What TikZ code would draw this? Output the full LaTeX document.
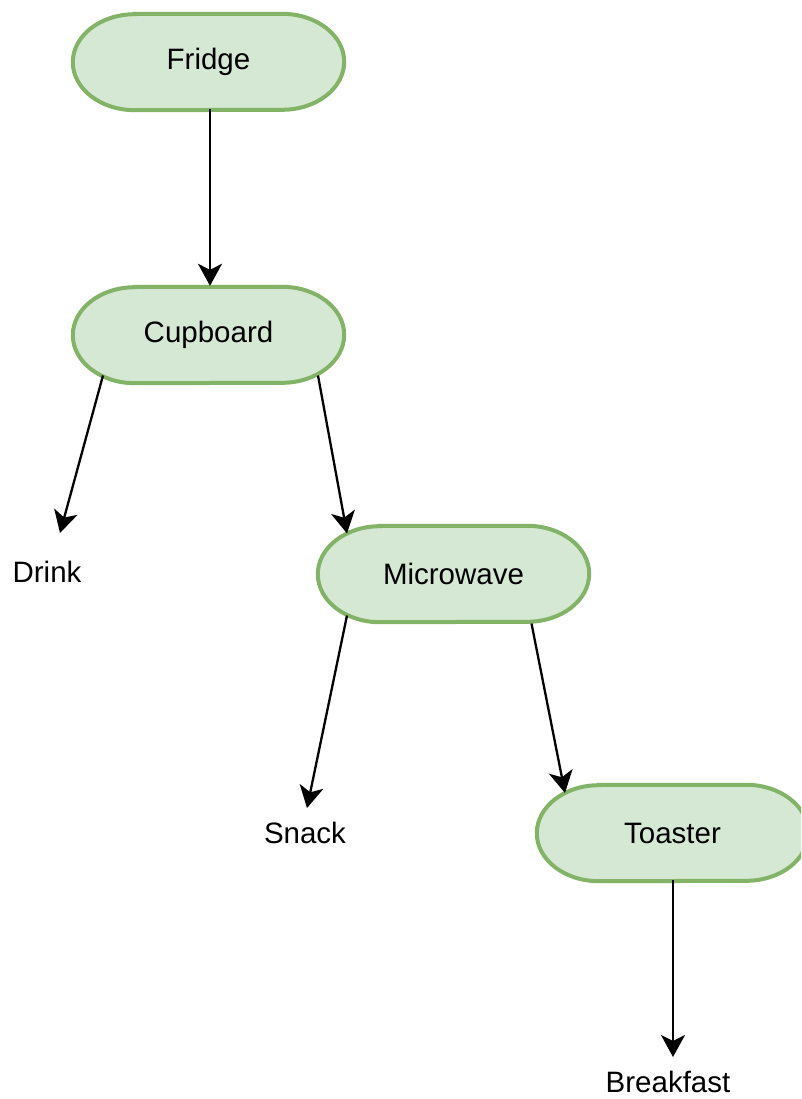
\documentclass[tikz,border=0pt]{standalone}
\usepackage{fontspec}
\setmainfont{Liberation Sans}
\usetikzlibrary{arrows.meta,backgrounds}
\begin{document}
\begin{tikzpicture}[x=1pt,y=-1pt,
  state/.style={minimum width=271pt,minimum height=96pt,inner sep=0pt,font=\fontsize{29.5}{33}\selectfont},
  outline/.style={draw=green1,fill=green2,line width=4pt},
  leaf/.style={inner sep=0pt,font=\fontsize{29.5}{33}\selectfont},
  conn/.style={line width=2.3pt,-{Stealth[length=22pt,width=24pt,inset=6pt]}}]
\definecolor{green1}{HTML}{82B366}
\definecolor{green2}{HTML}{D5E8D4}
\useasboundingbox (0,0) rectangle (801,1099);
\node[state] (fridge) at (208.5,62) {Fridge};
\node[state] (cupboard) at (208.5,335) {Cupboard};
\node[state] (microwave) at (453.5,574) {Microwave};
\node[state] (toaster) at (672.5,833) {Toaster};
\node[leaf] (drink) at (47,572) {Drink};
\node[leaf] (snack) at (305,833) {Snack};
\node[leaf] (breakfast) at (668,1082) {Breakfast};
\begin{scope}[on background layer]
\clip (0,0) rectangle (801,1099);
\foreach \n in {fridge,cupboard,microwave,toaster}{
  \draw[outline] ([xshift=62pt]\n.north west) -- ([xshift=-62pt]\n.north east)
    arc[start angle=90,end angle=-90,x radius=62pt,y radius=48pt]
    -- ([xshift=62pt]\n.south west)
    arc[start angle=270,end angle=90,x radius=62pt,y radius=48pt] -- cycle;
}
\end{scope}
\draw[conn] ([xshift=1.5pt,yshift=1pt]fridge.south) -- ([xshift=1.5pt,yshift=1pt]cupboard.north);
\draw[conn] ([shift={(-105.5,40.5)}]cupboard.center) -- ([shift={(13,-39)}]drink.center);
\draw[conn] ([shift={(109.5,40.5)}]cupboard.center) -- ([shift={(-106.5,-40.5)}]microwave.center);
\draw[conn] ([shift={(-106.5,41.5)}]microwave.center) -- ([shift={(2,-25)}]snack.center);
\draw[conn] ([shift={(78,49.5)}]microwave.center) -- ([shift={(-107.5,-40)}]toaster.center);
\draw[conn] ([xshift=0.5pt,yshift=1pt]toaster.south) -- ([shift={(5,-25)}]breakfast.center);
\end{tikzpicture}
\end{document}
